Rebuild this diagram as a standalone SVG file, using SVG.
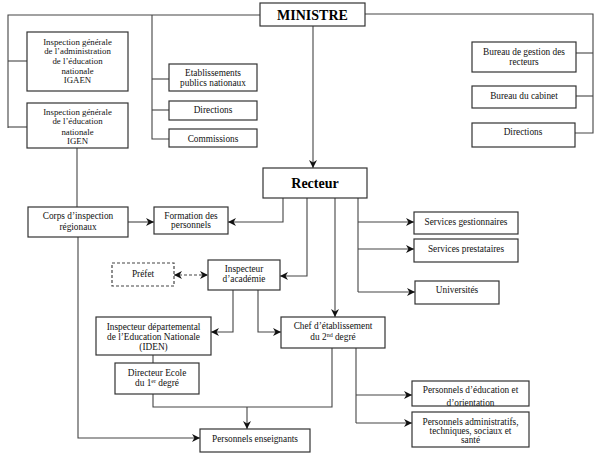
<svg xmlns="http://www.w3.org/2000/svg" width="598" height="458" viewBox="0 0 598 458">
<style>
.box{fill:#fff;stroke:#333;stroke-width:1.2}
.dash{fill:#fff;stroke:#444;stroke-width:1.2;stroke-dasharray:3,2}
.t{font-family:"Liberation Serif","Times New Roman",serif;font-size:9.3px;fill:#111;text-anchor:middle}
.s{font-size:8.8px}
.b{font-family:"Liberation Serif","Times New Roman",serif;font-size:14px;font-weight:bold;fill:#000;text-anchor:middle}
.ln{fill:none;stroke:#444;stroke-width:1.1}
.arr{marker-end:url(#ah)}
</style>
<defs>
<marker id="ah" viewBox="0 0 10 10" refX="10" refY="5" markerWidth="8" markerHeight="8" markerUnits="userSpaceOnUse" orient="auto-start-reverse">
<path d="M0,0 L10,5 L0,10 L3,5 z" fill="#111"/>
</marker>
<clipPath id="clipPE"><rect x="412" y="381" width="117" height="25"/></clipPath>
</defs>
<rect width="598" height="458" fill="#fff"/>

<g id="connectors">
<path class="ln" d="M260,15 H8 V128"/>
<path class="ln" d="M8,61 H27"/>
<path class="ln" d="M8,127 H27"/>
<path class="ln" d="M152,15 V139 H169"/>
<path class="ln" d="M152,79 H169"/>
<path class="ln" d="M152,110 H169"/>
<path class="ln" d="M365,14 H593 V133 H575"/>
<path class="ln" d="M593,53 H576"/>
<path class="ln" d="M593,96 H576"/>
<path class="ln arr" d="M313,26 V168"/>
<path class="ln" d="M77,148 V207"/>
<path class="ln arr" d="M128,222 H154"/>
<path class="ln arr" d="M78,237 V438 H200"/>
<path class="ln arr" d="M283,198 V222 H228"/>
<path class="ln arr" d="M307,198 V276 H280"/>
<path class="ln arr" d="M335,198 V317"/>
<path class="ln" d="M358,198 V292"/>
<path class="ln arr" d="M358,222 H414"/>
<path class="ln arr" d="M358,249 H414"/>
<path class="ln arr" d="M358,292 H415"/>
<path class="ln" d="M174,275 H208" stroke-dasharray="3,2" marker-start="url(#ah)" marker-end="url(#ah)"/>
<path class="ln arr" d="M233,290 V332 H211"/>
<path class="ln arr" d="M258,290 V332 H281"/>
<path class="ln" d="M153,355 V363"/>
<path class="ln" d="M153,394 V407 H332 V348"/>
<path class="ln arr" d="M247,407 V429"/>
<path class="ln" d="M356,348 V423"/>
<path class="ln arr" d="M356,395 H412"/>
<path class="ln arr" d="M356,423 H412"/>
</g>

<g id="ministre">
<rect class="box" x="260" y="3" width="105" height="23"/>
<text class="b" x="312.5" y="20">MINISTRE</text>
</g>
<g id="igaen">
<rect class="box" x="27" y="32" width="101" height="59"/>
<text class="t s" x="77.5" y="44.5">Inspection générale</text>
<text class="t s" x="77.5" y="54">de l’administration</text>
<text class="t s" x="77.5" y="63.5">de l’éducation</text>
<text class="t s" x="77.5" y="73.5">nationale</text>
<text class="t s" x="77.5" y="83">IGAEN</text>
</g>
<g id="igen">
<rect class="box" x="27" y="103" width="101" height="45"/>
<text class="t s" x="77.5" y="114.5">Inspection générale</text>
<text class="t s" x="77.5" y="124">de l’éducation</text>
<text class="t s" x="77.5" y="134.5">nationale</text>
<text class="t s" x="77.5" y="144">IGEN</text>
</g>
<g id="etablissements">
<rect class="box" x="169" y="64" width="88" height="27"/>
<text class="t" x="213" y="76">Etablissements</text>
<text class="t" x="213" y="86">publics nationaux</text>
</g>
<g id="directions1">
<rect class="box" x="169" y="101" width="88" height="19"/>
<text class="t" x="213" y="113">Directions</text>
</g>
<g id="commissions">
<rect class="box" x="169" y="129" width="88" height="18"/>
<text class="t" x="213" y="142">Commissions</text>
</g>
<g id="bureau-gestion">
<rect class="box" x="472" y="42" width="104" height="30"/>
<text class="t" x="524" y="55">Bureau de gestion des</text>
<text class="t" x="524" y="65">recteurs</text>
</g>
<g id="bureau-cabinet">
<rect class="box" x="472" y="86" width="104" height="22"/>
<text class="t" x="524" y="99">Bureau du cabinet</text>
</g>
<g id="directions2">
<rect class="box" x="472" y="123" width="103" height="24"/>
<text class="t" x="523" y="135">Directions</text>
</g>
<g id="recteur">
<rect class="box" x="263" y="168" width="104" height="30"/>
<text class="b" x="315" y="188">Recteur</text>
</g>
<g id="corps">
<rect class="box" x="28" y="207" width="100" height="30"/>
<text class="t" x="78" y="219">Corps d’inspection</text>
<text class="t" x="78" y="230">régionaux</text>
</g>
<g id="formation">
<rect class="box" x="154" y="207" width="74" height="27"/>
<text class="t" x="191" y="219">Formation des</text>
<text class="t" x="191" y="228">personnels</text>
</g>
<g id="prefet">
<rect class="dash" x="112" y="263" width="62" height="23"/>
<text class="t" x="143" y="277">Préfet</text>
</g>
<g id="inspecteur-academie">
<rect class="box" x="208" y="260" width="72" height="30"/>
<text class="t" x="244" y="272">Inspecteur</text>
<text class="t" x="244" y="282">d’académie</text>
</g>
<g id="services-gestionnaires">
<rect class="box" x="414" y="212" width="104" height="22"/>
<text class="t" x="466" y="225">Services gestionnaires</text>
</g>
<g id="services-prestataires">
<rect class="box" x="414" y="239" width="104" height="23"/>
<text class="t" x="466" y="252">Services prestataires</text>
</g>
<g id="universites">
<rect class="box" x="415" y="281" width="84" height="23"/>
<text class="t" x="457" y="293">Universités</text>
</g>
<g id="iden">
<rect class="box" x="96" y="317" width="115" height="38"/>
<text class="t" x="153.5" y="330">Inspecteur départemental</text>
<text class="t" x="153.5" y="340">de l’Education Nationale</text>
<text class="t" x="153.5" y="350">(IDEN)</text>
</g>
<g id="directeur-ecole">
<rect class="box" x="115" y="363" width="84" height="31"/>
<text class="t" x="157" y="376">Directeur Ecole</text>
<text class="t" x="157" y="386">du 1<tspan font-size="6" dy="-3.5">er</tspan><tspan dy="3.5"> degré</tspan></text>
</g>
<g id="chef-etablissement">
<rect class="box" x="281" y="317" width="104" height="31"/>
<text class="t" x="333" y="329">Chef d’établissement</text>
<text class="t" x="333" y="340">du 2<tspan font-size="6" dy="-3.5">nd</tspan><tspan dy="3.5"> degré</tspan></text>
</g>
<g id="personnels-enseignants">
<rect class="box" x="200" y="429" width="110" height="23"/>
<text class="t" x="255" y="442">Personnels enseignants</text>
</g>
<g id="personnels-education">
<rect x="412" y="381" width="117" height="25" fill="#fff"/>
<g clip-path="url(#clipPE)">
<text class="t" x="470.5" y="393">Personnels d’éducation et</text>
<text class="t" x="470.5" y="406">d’orientation</text>
</g>
<rect x="412" y="381" width="117" height="25" fill="none" stroke="#333" stroke-width="1.2"/>
</g>
<g id="personnels-administratifs">
<rect class="box" x="412" y="412" width="117" height="35"/>
<text class="t" x="470.5" y="425">Personnels administratifs,</text>
<text class="t" x="470.5" y="434">techniques, sociaux et</text>
<text class="t" x="470.5" y="443">santé</text>
</g>
</svg>
